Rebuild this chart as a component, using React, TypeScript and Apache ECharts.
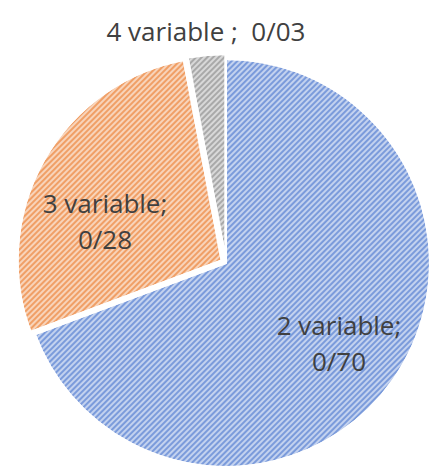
import React, { useEffect, useRef } from "react";
import * as echarts from "echarts";

const categories = ["2 variable", "3 variable", "4 variable"];
const values = [0.7, 0.28, 0.03];
const colors = ["#7b9bdb", "#f09f66", "#a9a9a9"];
const separators = [";\n", ";\n", " ;  "];

const fmt = (v: number) => v.toFixed(2).replace(".", "/");

export default function App() {
  const ref = useRef<HTMLDivElement>(null);
  useEffect(() => {
    const chart = echarts.init(ref.current!, undefined, { renderer: "svg" });
    const labelPos = [
      { x: 339, y: 343 },
      { x: 105, y: 221 },
      { x: 206, y: 31 },
    ];
    chart.setOption({
      animation: false,
      graphic: categories.map((c, i) => ({
        type: "text",
        x: labelPos[i].x,
        y: labelPos[i].y,
        z: 100,
        style: {
          text: c + separators[i] + fmt(values[i]),
          font: "26px 'Open Sans', sans-serif",
          fill: "#404040",
          lineHeight: 36,
          align: "center",
          verticalAlign: "middle",
        },
      })),
      series: [
        {
          type: "pie",
          center: [226, 263],
          radius: [0, 204],
          startAngle: 90,
          clockwise: true,
          selectedMode: "multiple",
          selectedOffset: 5,
          emphasis: { disabled: true },
          itemStyle: { borderColor: "#ffffff", borderWidth: 2 },
          label: { show: false },
          labelLine: { show: false },
          data: categories.map((c, i) => ({
            name: c,
            value: values[i],
            selected: i > 0,
            itemStyle: {
              color: colors[i],
              decal: {
                symbol: "rect",
                symbolSize: 1,
                dashArrayX: [1, 0],
                dashArrayY: [1.5, 1.5],
                rotation: -Math.PI / 4,
                color: "rgba(255,255,255,0.55)",
              },
            },
          })),
        },
      ],
    });
    return () => chart.dispose();
  }, []);
  return (
    <div
      ref={ref}
      style={{ position: "fixed", left: 0, top: 0, width: 432, height: 471, background: "#fff" }}
    />
  );
}
